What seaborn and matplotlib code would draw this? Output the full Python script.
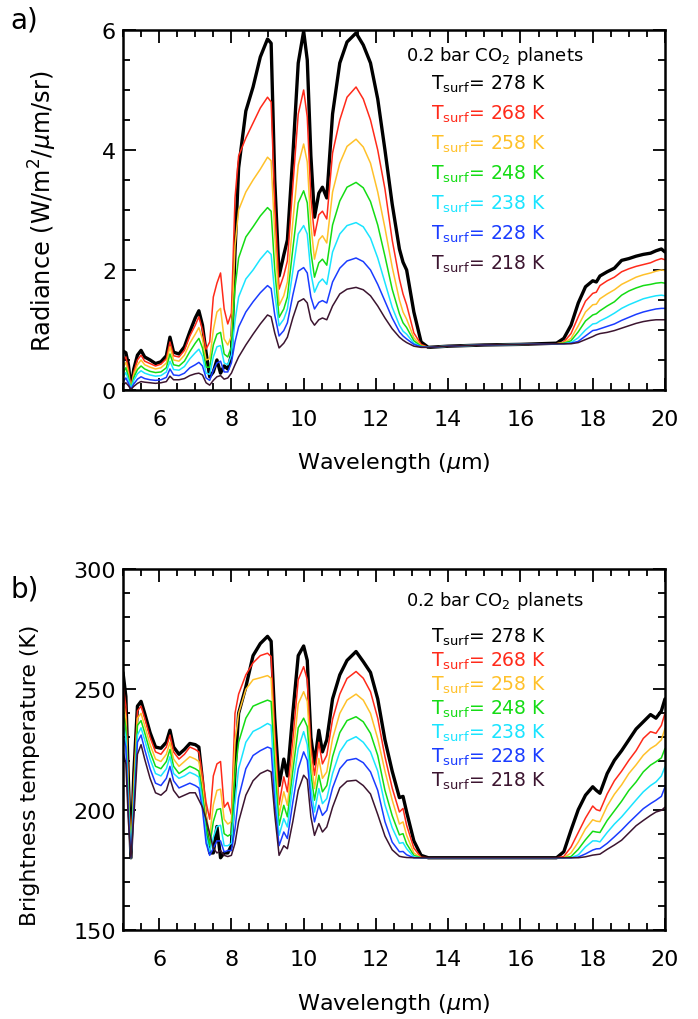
import numpy as np
import pandas as pd
import matplotlib
matplotlib.use("Agg")
import matplotlib.pyplot as plt
import seaborn as sns
from matplotlib.ticker import MultipleLocator

# ---------------- data ----------------
wavelength = [5.0, 5.08, 5.15, 5.22, 5.3, 5.4, 5.5, 5.6, 5.75, 5.9,
              6.05, 6.2, 6.3, 6.4, 6.55, 6.7, 6.85, 7.0, 7.1, 7.2,
              7.3, 7.4, 7.5, 7.6, 7.7, 7.8, 7.9, 8.0, 8.1, 8.2,
              8.4, 8.6, 8.8, 9.0, 9.1, 9.2, 9.32, 9.45, 9.55, 9.7,
              9.85, 10.0, 10.1, 10.2, 10.3, 10.42, 10.52, 10.64, 10.8, 11.0,
              11.2, 11.45, 11.65, 11.85, 12.05, 12.25, 12.45, 12.65, 12.75, 12.85,
              13.05, 13.25, 13.45, 14.0, 15.0, 16.0, 17.0, 17.2, 17.4, 17.6,
              17.8, 18.0, 18.1, 18.2, 18.4, 18.6, 18.8, 19.0, 19.2, 19.4,
              19.6, 19.75, 19.9, 20.0]

tsurf_labels = ["278", "268", "258", "248", "238", "228", "218"]

# Radiance (W/m2/um/sr)
rad_278 = [0.65, 0.62, 0.42, 0.03, 0.35, 0.58, 0.66, 0.55, 0.50, 0.44,
           0.47, 0.57, 0.88, 0.63, 0.60, 0.72, 0.97, 1.20, 1.32, 1.08,
           0.62, 0.22, 0.30, 0.50, 0.28, 0.40, 0.35, 0.58, 2.30, 3.70,
           4.65, 5.05, 5.55, 5.85, 5.78, 3.50, 1.90, 2.25, 2.50, 3.90,
           5.45, 5.98, 5.50, 3.90, 2.88, 3.28, 3.38, 3.20, 4.60, 5.45,
           5.80, 5.95, 5.75, 5.45, 4.85, 4.00, 3.10, 2.35, 2.13, 2.00,
           1.30, 0.80, 0.71, 0.73, 0.75, 0.76, 0.78, 0.86, 1.08, 1.45,
           1.72, 1.82, 1.80, 1.90, 1.97, 2.03, 2.16, 2.19, 2.23, 2.26,
           2.28, 2.32, 2.35, 2.30]
rad_268 = [0.50, 0.55, 0.35, 0.03, 0.30, 0.50, 0.58, 0.48, 0.44, 0.40,
           0.43, 0.52, 0.80, 0.57, 0.55, 0.66, 0.90, 1.08, 1.22, 1.00,
           0.68, 0.80, 1.55, 1.78, 1.95, 1.35, 1.10, 1.28, 3.20, 3.90,
           4.20, 4.45, 4.70, 4.88, 4.80, 3.10, 1.68, 1.91, 2.15, 3.40,
           4.60, 5.00, 4.55, 3.20, 2.57, 2.92, 2.98, 2.85, 3.95, 4.50,
           4.88, 5.05, 4.85, 4.50, 4.00, 3.35, 2.50, 1.85, 1.60, 1.42,
           0.95, 0.76, 0.71, 0.73, 0.75, 0.76, 0.77, 0.80, 0.94, 1.22,
           1.48, 1.61, 1.63, 1.74, 1.82, 1.88, 1.97, 2.02, 2.06, 2.09,
           2.12, 2.16, 2.19, 2.17]
rad_258 = [0.38, 0.46, 0.28, 0.03, 0.26, 0.42, 0.50, 0.42, 0.38, 0.35,
           0.37, 0.45, 0.72, 0.50, 0.48, 0.58, 0.78, 0.93, 1.04, 0.85,
           0.50, 0.52, 1.00, 1.30, 1.36, 0.85, 0.75, 0.90, 2.40, 3.00,
           3.30, 3.50, 3.68, 3.88, 3.82, 2.60, 1.41, 1.57, 1.80, 2.80,
           3.75, 4.10, 3.80, 2.75, 2.18, 2.50, 2.57, 2.45, 3.30, 3.78,
           4.06, 4.18, 4.05, 3.78, 3.30, 2.70, 2.05, 1.50, 1.30, 1.18,
           0.87, 0.74, 0.71, 0.73, 0.75, 0.76, 0.77, 0.79, 0.86, 1.07,
           1.30, 1.42, 1.43, 1.52, 1.60, 1.67, 1.76, 1.82, 1.88, 1.92,
           1.95, 1.98, 2.00, 1.99]
rad_248 = [0.29, 0.37, 0.22, 0.02, 0.21, 0.34, 0.40, 0.35, 0.31, 0.29,
           0.30, 0.37, 0.60, 0.42, 0.40, 0.48, 0.64, 0.78, 0.86, 0.70,
           0.38, 0.38, 0.75, 0.93, 0.96, 0.60, 0.55, 0.72, 1.70, 2.20,
           2.55, 2.72, 2.90, 3.04, 2.98, 2.00, 1.21, 1.35, 1.55, 2.35,
           3.12, 3.32, 3.12, 2.30, 1.88, 2.12, 2.18, 2.08, 2.75, 3.15,
           3.38, 3.46, 3.37, 3.14, 2.75, 2.23, 1.68, 1.27, 1.12, 1.04,
           0.82, 0.73, 0.71, 0.73, 0.75, 0.76, 0.77, 0.78, 0.82, 0.97,
           1.15, 1.25, 1.27, 1.32, 1.40, 1.47, 1.58, 1.65, 1.70, 1.74,
           1.76, 1.78, 1.79, 1.78]
rad_238 = [0.21, 0.29, 0.17, 0.02, 0.16, 0.27, 0.32, 0.28, 0.25, 0.23,
           0.24, 0.30, 0.48, 0.34, 0.33, 0.39, 0.52, 0.62, 0.68, 0.56,
           0.28, 0.26, 0.55, 0.72, 0.74, 0.45, 0.42, 0.58, 1.15, 1.55,
           1.85, 2.00, 2.18, 2.32, 2.26, 1.60, 1.07, 1.18, 1.35, 1.98,
           2.60, 2.74, 2.60, 1.95, 1.63, 1.79, 1.85, 1.76, 2.30, 2.60,
           2.74, 2.79, 2.72, 2.53, 2.20, 1.79, 1.38, 1.08, 0.98, 0.93,
           0.78, 0.72, 0.71, 0.73, 0.75, 0.76, 0.77, 0.77, 0.79, 0.87,
           1.00, 1.10, 1.11, 1.15, 1.21, 1.28, 1.36, 1.42, 1.47, 1.52,
           1.55, 1.57, 1.58, 1.57]
rad_228 = [0.14, 0.20, 0.11, 0.01, 0.10, 0.18, 0.22, 0.19, 0.17, 0.16,
           0.17, 0.21, 0.35, 0.25, 0.24, 0.28, 0.37, 0.42, 0.46, 0.40,
           0.20, 0.16, 0.33, 0.45, 0.48, 0.30, 0.30, 0.45, 0.80, 1.05,
           1.30, 1.47, 1.62, 1.74, 1.69, 1.25, 0.90, 0.99, 1.12, 1.58,
           1.98, 2.04, 1.95, 1.55, 1.35, 1.46, 1.49, 1.45, 1.80, 2.03,
           2.15, 2.20, 2.14, 2.00, 1.76, 1.48, 1.20, 0.97, 0.90, 0.85,
           0.76, 0.72, 0.71, 0.73, 0.75, 0.76, 0.77, 0.77, 0.78, 0.81,
           0.90, 0.99, 1.00, 1.02, 1.06, 1.10, 1.16, 1.21, 1.26, 1.30,
           1.33, 1.35, 1.36, 1.36]
rad_218 = [0.08, 0.12, 0.07, 0.01, 0.06, 0.11, 0.14, 0.13, 0.12, 0.11,
           0.12, 0.14, 0.23, 0.17, 0.17, 0.19, 0.24, 0.27, 0.28, 0.25,
           0.12, 0.08, 0.16, 0.22, 0.24, 0.18, 0.20, 0.28, 0.42, 0.55,
           0.75, 0.93, 1.10, 1.25, 1.22, 0.95, 0.70, 0.78, 0.88, 1.20,
           1.47, 1.52, 1.45, 1.17, 1.08, 1.17, 1.20, 1.17, 1.40, 1.60,
           1.68, 1.71, 1.67, 1.57, 1.40, 1.20, 1.02, 0.88, 0.83, 0.79,
           0.73, 0.71, 0.71, 0.73, 0.75, 0.76, 0.77, 0.77, 0.77, 0.79,
           0.84, 0.89, 0.92, 0.94, 0.96, 0.99, 1.03, 1.07, 1.11, 1.14,
           1.16, 1.17, 1.17, 1.17]

# Brightness temperature (K)
tb_278 = [257, 247, 212, 180, 215, 243, 245, 240, 232, 226,
          225.5, 228, 233, 226, 223, 225, 227.5, 227, 226, 212,
          194, 182, 182, 193, 180, 182, 182, 185, 216, 240,
          251, 264, 269, 272, 270, 238, 210, 221, 214, 240,
          264, 268, 262, 230, 219, 233, 224, 229, 246, 256,
          262, 265.7, 261.5, 257, 246, 229, 216, 205, 205.5, 199,
          187, 181, 180, 180, 180, 180, 180, 182.5, 191.5, 200,
          206, 209.5, 208, 206.8, 215, 220.5, 224.5, 229, 233.5, 236.5,
          239.5, 238, 241, 246]
tb_268 = [252, 243, 210, 180, 212, 241, 243, 238, 230, 224,
          223, 226, 231, 224, 221, 223, 226, 225, 224, 214,
          203, 196, 214, 219, 220, 201, 203, 198, 240, 248,
          256, 261, 264, 265, 263.6, 232, 202, 213.6, 207.4, 229,
          254, 259.4, 254, 226, 214.3, 228, 219, 222.6, 237.5, 248,
          254.5, 257.4, 254.6, 249, 238, 222, 209, 199, 200.5, 193.5,
          184, 180.2, 180, 180, 180, 180, 180, 180.5, 184.5, 190.5,
          196.5, 201.5, 200, 199.5, 206.5, 212, 216, 220.5, 224.5, 229.6,
          232.4, 231.7, 235, 240]
tb_258 = [246, 238, 207, 180, 209, 238, 240, 235, 227, 221,
          220, 223, 228, 221, 218, 220, 222, 221, 220, 210,
          198, 189, 202, 208, 208.5, 196, 194, 195, 228, 240,
          250, 254, 254.8, 255.7, 254.6, 226, 197.6, 207.4, 201.8, 222,
          244, 249, 245, 221, 208.75, 221.25, 213, 215.7, 229.5, 240,
          245.5, 248, 245.5, 240, 229.5, 216, 204, 194, 194.9, 189.3,
          182, 180, 180, 180, 180, 180, 180, 180, 182, 186.5,
          192, 195.8, 195.2, 195, 201.5, 206.4, 210.3, 215, 218.6, 222.6,
          225.4, 226.8, 229, 233.75]
tb_248 = [241, 234, 204, 180, 206, 235, 237, 232, 224, 218,
          217, 220, 225, 218, 215, 216.5, 218, 217, 216, 206,
          193, 185, 195, 200, 200.4, 190, 189, 190, 215, 228,
          238, 243, 244.3, 245.5, 244.9, 218, 193.5, 201.8, 197, 216,
          234, 238, 234.5, 215, 203.9, 214.3, 207.4, 210, 222, 232,
          237, 238.6, 236.5, 231.7, 222.5, 208, 197.5, 189.5, 190, 185.8,
          181, 180, 180, 180, 180, 180, 180, 180, 180.5, 183.5,
          187.5, 191, 190.7, 190.5, 195.5, 199.5, 203.5, 208, 211.5, 215.7,
          218.5, 219.9, 221.5, 225.4]
tb_238 = [236, 230, 201, 180, 203, 231, 234, 229, 221, 215,
          214, 217, 222, 215, 213, 214, 215.5, 214.5, 213.5, 203,
          189, 182.5, 188.5, 193, 193.5, 185, 185, 186, 203, 217,
          228, 232.5, 234, 235.8, 235, 210, 189.3, 196.25, 192.8, 210,
          225.5, 232.4, 227, 209, 199, 208.75, 202.5, 204.6, 215, 224,
          228.5, 230.3, 228, 224, 216, 202, 192.5, 186, 186.3, 183.75,
          180.3, 180, 180, 180, 180, 180, 180, 180, 180, 181.2,
          184.5, 187, 187, 186.6, 190.5, 194, 197, 200.5, 204, 207.4,
          210, 211.5, 214, 217.8]
tb_228 = [231, 226, 198, 180, 200, 228, 231, 225, 217, 211,
          210, 213, 218, 212, 209, 210, 211, 210, 209, 200,
          186, 181, 184, 187, 187, 182.4, 183, 183, 192, 205,
          217, 222.5, 224.5, 226, 225.4, 203, 185, 190.7, 188, 203,
          217, 224, 220.5, 204, 194.9, 201.8, 197.6, 199.7, 209, 217,
          220.5, 221.25, 219.5, 215.7, 208, 195, 186.5, 182.5, 182.6, 181.25,
          180, 180, 180, 180, 180, 180, 180, 180, 180, 180.3,
          181.6, 183.2, 183.7, 183.8, 186, 188.7, 191.5, 194.6, 197.5, 200.4,
          202.5, 203.9, 205.5, 209.4]
tb_218 = [224, 219, 195, 180, 197, 223, 227, 221, 213, 207,
          206, 208, 213, 208, 205, 206, 207, 207, 204, 201,
          196, 190, 184, 182, 183, 181, 180.5, 181, 186, 195,
          206, 212, 215, 216.4, 215.7, 198, 181, 185, 183.75, 195,
          208, 214.3, 212.5, 197, 189.3, 194.2, 190.7, 192.8, 201, 209,
          211.8, 212.2, 210, 206.5, 198, 189, 183.3, 180.6, 180.3, 180.1,
          180, 180, 180, 180, 180, 180, 180, 180, 180, 180,
          180.4, 181.1, 181.3, 181.5, 183.5, 185.3, 187.3, 190.3, 193.3, 195.5,
          197.6, 199, 199.7, 201]

radiance = [rad_278, rad_268, rad_258, rad_248, rad_238, rad_228, rad_218]
brightness = [tb_278, tb_268, tb_258, tb_248, tb_238, tb_228, tb_218]

line_colors = ["#000000", "#FF2A1A", "#FFC12A", "#14DC14", "#1AE4FF", "#1A3CFF", "#3C1530"]
line_widths = [2.4, 1.1, 1.1, 1.1, 1.1, 1.1, 1.1]

rows = []
for lab, r, b in zip(tsurf_labels, radiance, brightness):
    for w, rv, bv in zip(wavelength, r, b):
        rows.append({"wl": w, "rad": rv, "tb": bv, "tsurf": lab})
df = pd.DataFrame(rows)

# ---------------- style ----------------
sns.set_theme(style="ticks")
plt.rcParams["font.family"] = ["DejaVu Sans"]
plt.rcParams["mathtext.fontset"] = "dejavusans"
plt.rcParams["axes.linewidth"] = 1.8
plt.rcParams["axes.edgecolor"] = "black"
plt.rcParams["axes.labelcolor"] = "black"
plt.rcParams["text.color"] = "black"
plt.rcParams["xtick.color"] = "black"
plt.rcParams["ytick.color"] = "black"

fig = plt.figure(figsize=(6.98, 10.2), dpi=100)
fig.patch.set_facecolor("white")
axA = fig.add_axes([0.1762, 0.6167, 0.7765, 0.3529])
axB = fig.add_axes([0.1762, 0.0873, 0.7765, 0.3539])

palette = dict(zip(tsurf_labels, line_colors))
sizes = dict(zip(tsurf_labels, line_widths))

for ax, col in [(axA, "rad"), (axB, "tb")]:
    sns.lineplot(data=df, x="wl", y=col, hue="tsurf", hue_order=tsurf_labels,
                 palette=palette, size="tsurf", size_order=tsurf_labels, sizes=sizes,
                 estimator=None, sort=False, legend=False, ax=ax)
    ax.set_xlim(5, 20)
    ax.xaxis.set_major_locator(MultipleLocator(2))
    ax.xaxis.set_minor_locator(MultipleLocator(0.5))
    ax.tick_params(which="both", direction="in", top=True, right=True,
                   labelsize=16, width=1.3, colors="black", labelcolor="black")
    ax.tick_params(which="major", length=9)
    ax.tick_params(which="minor", length=5)
    ax.tick_params(axis="x", pad=14)
    ax.tick_params(axis="y", pad=5)
    ax.set_xlabel(r"Wavelength ($\mu$m)", fontsize=16, color="black")
    ax.xaxis.set_label_coords(0.5, -0.168)
    ax.set_facecolor("white")
    for s in ax.spines.values():
        s.set_linewidth(1.8)
        s.set_color("black")

axA.set_ylim(0, 6)
axA.yaxis.set_major_locator(MultipleLocator(2))
axA.yaxis.set_minor_locator(MultipleLocator(0.5))
axA.set_ylabel(r"Radiance (W/m$^2$/$\mu$m/sr)", fontsize=17.3, color="black")
axA.yaxis.set_label_coords(-0.118, 0.5)

axB.set_ylim(150, 300)
axB.yaxis.set_major_locator(MultipleLocator(50))
axB.yaxis.set_minor_locator(MultipleLocator(10))
axB.set_ylabel("Brightness temperature (K)", fontsize=15.8, color="black")
axB.yaxis.set_label_coords(-0.153, 0.43)

fig.canvas.draw()
for ax in (axA, axB):
    labs = ax.get_yticklabels()
    labs[0].set_va("bottom")
    labs[-1].set_va("top")

# legend-like annotations
def annotate(ax, y_title, y0, step):
    ax.text(0.522, y_title, r"0.2 bar CO$_2$ planets", transform=ax.transAxes,
            fontsize=13, color="black", va="baseline", ha="left")
    for i, (lab, c) in enumerate(zip(tsurf_labels, line_colors)):
        ax.text(0.568, y0 - i * step, r"T$_{\rm surf}$= " + lab + " K",
                transform=ax.transAxes, fontsize=13.5, color=c,
                va="baseline", ha="left")

annotate(axA, 0.918, 0.836, 0.0833)
annotate(axB, 0.899, 0.798, 0.0665)

fig.text(0.015, 0.980, "a)", fontsize=20, va="center", ha="left")
fig.text(0.015, 0.4216, "b)", fontsize=20, va="center", ha="left")

fig.savefig("out.png", dpi=100, facecolor="white")
